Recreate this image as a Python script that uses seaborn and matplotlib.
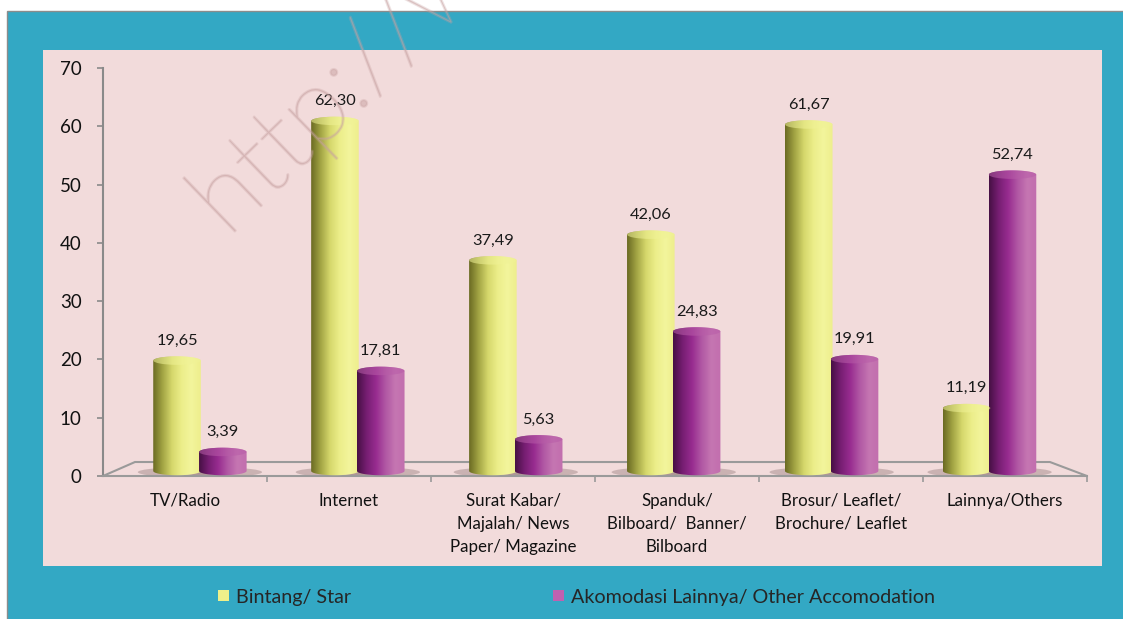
import numpy as np
import pandas as pd
import matplotlib
matplotlib.use("Agg")
import matplotlib.pyplot as plt
import matplotlib.patheffects as pe
import seaborn as sns
from matplotlib.patches import Ellipse, Rectangle, Polygon, Patch, PathPatch
from matplotlib.path import Path
from matplotlib.colors import LinearSegmentedColormap

# ---------------- data ----------------
categories = [
    "TV/Radio",
    "Internet",
    "Surat Kabar/\nMajalah/ News\nPaper/ Magazine",
    "Spanduk/\nBilboard/  Banner/\nBilboard",
    "Brosur/ Leaflet/\nBrochure/ Leaflet",
    "Lainnya/Others",
]
series_names = ["Bintang/ Star", "Akomodasi Lainnya/ Other Accomodation"]
star_values = [19.65, 62.30, 37.49, 42.06, 61.67, 11.19]
other_values = [3.39, 17.81, 5.63, 24.83, 19.91, 52.74]
y_ticks = [0, 10, 20, 30, 40, 50, 60, 70]


def fmt(v):
    return f"{v:.2f}".replace(".", ",")


df = pd.DataFrame({
    "category": categories * 2,
    "series": [series_names[0]] * len(categories) + [series_names[1]] * len(categories),
    "value": star_values + other_values,
})

sns.set_theme(style="white")
plt.rcParams["font.family"] = ["Lato", "DejaVu Sans"]

W, H = 1123, 619
fig = plt.figure(figsize=(W / 100, H / 100), dpi=100)
fig.patch.set_facecolor("white")

# teal frame and pink panel
fig.add_artist(Rectangle((7 / W, -0.01), 1 - 7 / W + 0.01, 1 - 11 / H + 0.01,
                         transform=fig.transFigure, facecolor="#33a8c4",
                         edgecolor="#8c8c8c", lw=1.0, zorder=-3))
fig.add_artist(Rectangle((43 / W, 1 - 566 / H), (1102 - 43) / W, (566 - 50) / H,
                         transform=fig.transFigure, facecolor="#f2dbdb",
                         edgecolor="none", zorder=-2))

ax = fig.add_axes([103 / W, 1 - 476 / H, (1087 - 103) / W, (476 - 68) / H])
ax.patch.set_alpha(0)

yellow = "#eef08a"
purple = "#b455a8"
sns.barplot(data=df, x="category", y="value", hue="series", order=categories,
            hue_order=series_names, palette=[yellow, purple], width=0.58,
            saturation=1, ax=ax, legend=False)

ax.set_xlim(-0.5, len(categories) - 0.5)
ax.set_ylim(0, 70)

cmap_y = LinearSegmentedColormap.from_list(
    "cy", ["#6a6a22", "#a2a444", "#d6d86c", "#ecee8a", "#f3f59c", "#eeee8c"])
cmap_p = LinearSegmentedColormap.from_list(
    "cp", ["#461044", "#761e72", "#982c90", "#b158a4", "#c576b2", "#c26eae"])
top_col = ["#f0f296", "#b85ca8"]

ppx = 408 / 70.0          # pixels per data unit on the front plane
eh = 8.5 / ppx            # ellipse height in data units
depth_base = 0.86         # back-plane offset of the bar base (3D look)
depth_scale = 0.964       # back-plane vertical compression (3D look)
grad = np.linspace(0, 1, 256).reshape(1, -1)

for j, cont in enumerate(ax.containers):
    cmap = cmap_y if j == 0 else cmap_p
    vals = star_values if j == 0 else other_values
    for i, patch in enumerate(cont.patches):
        w = patch.get_width()
        c_orig = patch.get_x() + w / 2
        c = 0.091 + 0.963 * c_orig            # slight perspective placement
        hv = patch.get_height()
        b = depth_base
        h = depth_base + depth_scale * hv
        x0, x1 = c - w / 2, c + w / 2
        patch.set_visible(False)
        # shadow at base
        ax.add_patch(Ellipse((c, b - 0.2), w * 1.65, eh * 1.05, facecolor="#6e5656",
                             alpha=0.3, edgecolor="none", zorder=2, clip_on=False))
        # cylinder outline: bottom half-ellipse, sides, top half-ellipse
        t1 = np.linspace(np.pi, 2 * np.pi, 40)
        t2 = np.linspace(0, np.pi, 40)
        verts = list(zip(c + (w / 2) * np.cos(t1), b + (eh / 2) * np.sin(t1)))
        verts += list(zip(c + (w / 2) * np.cos(t2), h + (eh / 2) * np.sin(t2)))
        verts += [verts[0]]
        codes = [Path.MOVETO] + [Path.LINETO] * (len(verts) - 2) + [Path.CLOSEPOLY]
        path = Path(verts, codes)
        pp = PathPatch(path, transform=ax.transData, facecolor="none",
                       edgecolor="none")
        ax.add_patch(pp)
        im = ax.imshow(grad, cmap=cmap, aspect="auto",
                       extent=(x0, x1, b - eh, h + eh), zorder=3,
                       interpolation="bilinear")
        im.set_clip_path(pp)
        im.set_clip_box(None)
        # top ellipse (light face)
        ax.add_patch(Ellipse((c, h), w * 0.995, eh, facecolor=top_col[j],
                             edgecolor="none", alpha=0.55, zorder=4, clip_on=False))
        ax.text(c, h + 3.4, fmt(vals[i]), ha="center", va="center",
                fontsize=11.8, color="#1a1a1a", zorder=6)

ax.set_xlim(-0.5, len(categories) - 0.5)
ax.set_ylim(0, 70)

# floor
floor = Polygon([(-0.5, 0), (-0.305, 2.4), (5.274, 2.4), (5.5, 0)], closed=False,
                facecolor="none", edgecolor="#9a9a9a", lw=1.5, zorder=1, clip_on=False)
ax.add_patch(floor)

ax.set_xticks(range(len(categories)))
ax.set_xticklabels(categories, fontsize=12.2, linespacing=1.55, va="top")
ax.set_xticks([k + 0.5 for k in range(len(categories))], minor=True)
ax.tick_params(axis="x", which="major", length=0, pad=12, colors="#111111")
ax.tick_params(axis="x", which="minor", length=4, width=1.2, color="#9a9a9a",
               direction="out", bottom=True)
ax.set_yticks(y_ticks)
ax.set_yticklabels([str(v) for v in y_ticks], fontsize=13.5)
ax.tick_params(axis="y", length=4.5, width=1.2, color="#8a8a8a", direction="out",
               left=True, pad=11, labelcolor="#111111")
ax.set_xlabel("")
ax.set_ylabel("")
for s in ["top", "right"]:
    ax.spines[s].set_visible(False)
ax.spines["left"].set_color("#8a8a8a")
ax.spines["left"].set_linewidth(1.5)
ax.spines["bottom"].set_color("#9a9a9a")
ax.spines["bottom"].set_linewidth(1.5)

# legend
handles = [Patch(facecolor=yellow, edgecolor="none"),
           Patch(facecolor="#c061b0", edgecolor="none")]
fig.legend(handles, series_names, loc="center left",
           bbox_to_anchor=(218 / W, 1 - 597 / H), ncol=2, frameon=False,
           fontsize=14.2, handlelength=0.55, handleheight=0.55, handletextpad=0.35,
           columnspacing=10.25, borderpad=0, borderaxespad=0)

# watermark
fig.text(228 / W, 1 - 238 / H, "http://www.bps.go.id", rotation=44,
         rotation_mode="anchor", ha="left", va="baseline", fontsize=74,
         fontweight="light", color="#c8a2a2", alpha=0.3, zorder=10,
         path_effects=[pe.withStroke(linewidth=1.6, foreground="#c8a2a2")])

fig.savefig("out.png", dpi=100)
